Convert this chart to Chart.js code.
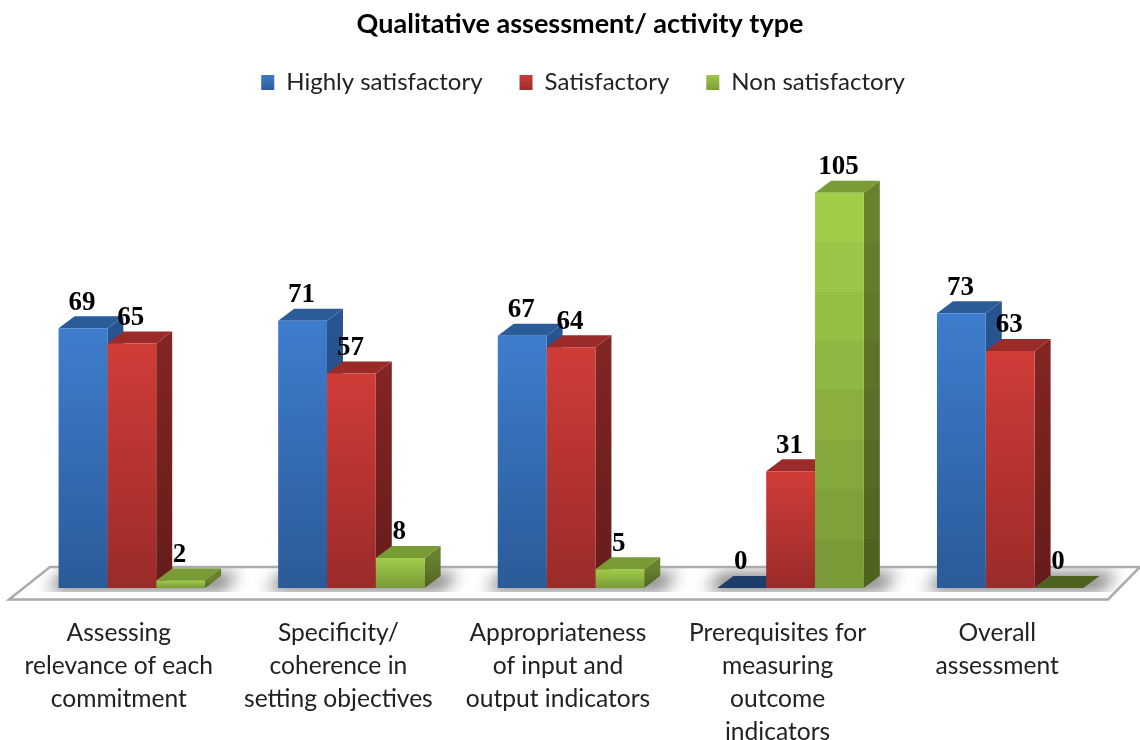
<!DOCTYPE html>
<html><head><meta charset="utf-8">
<style>html,body{margin:0;padding:0;background:#fff}canvas{display:block}</style>
<script src="https://cdn.jsdelivr.net/npm/chart.js@4"></script>
</head><body><canvas id="c" width="1140" height="740"></canvas>
<script>
const categories = [
  ["Assessing","relevance of each","commitment"],
  ["Specificity/","coherence in","setting objectives"],
  ["Appropriateness","of input and","output indicators"],
  ["Prerequisites for","measuring","outcome","indicators"],
  ["Overall","assessment"]
];
const seriesNames = ["Highly satisfactory","Satisfactory","Non satisfactory"];
const highlySatisfactory = [69,71,67,0,73];
const satisfactory = [65,57,64,31,63];
const nonSatisfactory = [2,8,5,105,0];
const chartTitle = "Qualitative assessment/ activity type";

const palette = [
  {top:[62,125,205],bot:[43,90,152],cap:'#2b5c99',sideT:[40,85,145],sideB:[31,66,112],flat:'#1d3d6b',bands:false},
  {top:[208,60,56],bot:[154,43,41],cap:'#9a2b29',sideT:[130,37,35],sideB:[101,28,27],flat:'#7a2220',bands:false},
  {top:[161,204,72],bot:[122,154,56],cap:'#789b35',sideT:[103,129,46],sideB:[79,99,32],flat:'#4f6320',bands:true}
];
const DX = 16, DY = -12, BAND = 50;
const rgb = a => `rgb(${a.map(Math.round).join(',')})`;
const mix = (a,b,t) => a.map((v,i)=>v+(b[i]-v)*t);

function shade(c, top, base, c1, c2, banded){
  const g = c.createLinearGradient(0, top, 0, base);
  const n = banded ? Math.round((base-top)/BAND) : 0;
  if (n < 2){ g.addColorStop(0, rgb(c1)); g.addColorStop(1, rgb(c2)); return g; }
  for (let i=0;i<n;i++){
    const col = rgb(mix(c1,c2,i/(n-1)));
    g.addColorStop(i/n, col); g.addColorStop((i+1)/n, col);
  }
  return g;
}
function frontFill(ctx){
  const p = palette[ctx.datasetIndex];
  if (ctx.dataIndex === undefined) return rgb(p.top);
  const ys = ctx.chart.scales.y, top = ys.getPixelForValue(ctx.parsed.y), base = ys.getPixelForValue(0);
  if (base - top < 1) return p.flat;
  return shade(ctx.chart.ctx, top, base, p.top, p.bot, p.bands);
}
function poly(c, pts, fill){
  c.beginPath(); pts.forEach((q,i)=> i ? c.lineTo(q[0],q[1]) : c.moveTo(q[0],q[1])); c.closePath();
  if (fill){ c.fillStyle = fill; c.fill(); }
}
const scene3d = {
  id:'scene3d',
  afterLayout(chart){
    chart.titleBlock.left += 9; chart.titleBlock.right += 9;
    chart.legend.left += 12; chart.legend.right += 12;
  },
  beforeDatasetsDraw(chart){
    const c = chart.ctx, a = chart.chartArea, base = chart.scales.y.getPixelForValue(0);
    const metas = [0,1,2].map(i=>chart.getDatasetMeta(i));
    const fy = base + 11.5, by = base - 21, lx = a.left - 13, rx = a.right - 12;
    const floor = [[lx,fy],[lx+41,by],[rx+32,by],[rx,fy]];
    c.save();
    poly(c, floor, '#fff');
    c.save();
    poly(c, floor); c.clip();
    c.beginPath(); c.rect(0, by, 1140, base + 4 - by); c.clip();
    c.filter = 'blur(8px)';
    categories.forEach((_,i)=>{
      const l = metas[0].data[i], r = metas[2].data[i];
      const x0 = l.x - l.width/2 - 12, x1 = r.x + r.width/2 + DX + 18;
      poly(c, [[x0,base+3],[x0+DX,by+6],[x1,by+6],[x1-DX,base+3]], '#7c7c7c');
    });
    c.restore();
    c.strokeStyle = '#ababab'; c.lineWidth = 2.5; c.lineJoin = 'miter';
    poly(c, floor); c.stroke();
    metas.forEach((m,d)=>{
      const p = palette[d];
      m.data.forEach(el=>{
        const x0 = el.x - el.width/2, x1 = el.x + el.width/2, t = el.y, b = el.base;
        if (b - t >= 1) poly(c, [[x1,t],[x1+DX,t+DY],[x1+DX,b+DY],[x1,b]], shade(c, t, b, p.sideT, p.sideB, p.bands));
        poly(c, [[x0,t],[x0+DX,t+DY],[x1+DX,t+DY],[x1,t]], b - t >= 1 ? p.cap : p.flat);
      });
    });
    c.restore();
  },
  afterDatasetsDraw(chart){
    const c = chart.ctx;
    c.save();
    c.font = 'bold 27px "Liberation Serif"'; c.fillStyle = '#000';
    c.textAlign = 'center'; c.textBaseline = 'middle';
    [0,1,2].forEach(d=>{
      chart.getDatasetMeta(d).data.forEach((el,i)=>{
        c.fillText(String(chart.data.datasets[d].data[i]), el.x - 1, el.y - 25.5);
      });
    });
    c.restore();
  }
};
const chart = new Chart(document.getElementById('c'), {
  type:'bar',
  data:{labels:categories, datasets:[
    {label:seriesNames[0], data:highlySatisfactory, backgroundColor:frontFill},
    {label:seriesNames[1], data:satisfactory, backgroundColor:frontFill},
    {label:seriesNames[2], data:nonSatisfactory, backgroundColor:frontFill}
  ]},
  plugins:[scene3d],
  options:{
    responsive:false, animation:false,
    devicePixelRatio:1,
    layout:{padding:{left:22,right:20,top:0,bottom:0}},
    datasets:{bar:{barPercentage:1,categoryPercentage:0.667}},
    plugins:{
      tooltip:{enabled:false},
      title:{display:true,text:chartTitle,color:'#000',font:{family:'Lato',size:27,weight:'bold'},padding:{top:8,bottom:-7}},
      legend:{position:'top',labels:{
        color:'#222',font:{family:'Lato',size:24},boxWidth:13,boxHeight:15,padding:37,
        generateLabels(ch){
          return seriesNames.map((n,i)=>{
            const g = ch.ctx.createLinearGradient(0,74,0,91);
            g.addColorStop(0,rgb(palette[i].top)); g.addColorStop(1,rgb(palette[i].bot));
            return {text:n,fillStyle:g,strokeStyle:'transparent',lineWidth:0,datasetIndex:i,fontColor:'#222'};
          });
        }
      }}
    },
    scales:{
      x:{
        grid:{display:false},border:{display:false},
        ticks:{color:'#222',font:{family:'Lato',size:24.6,lineHeight:1.34},padding:21,maxRotation:0,autoSkip:false,labelOffset:-13},
        afterFit(s){ s.height = 152; }
      },
      y:{display:false,min:0,max:128.5}
    }
  }
});
</script></body></html>
